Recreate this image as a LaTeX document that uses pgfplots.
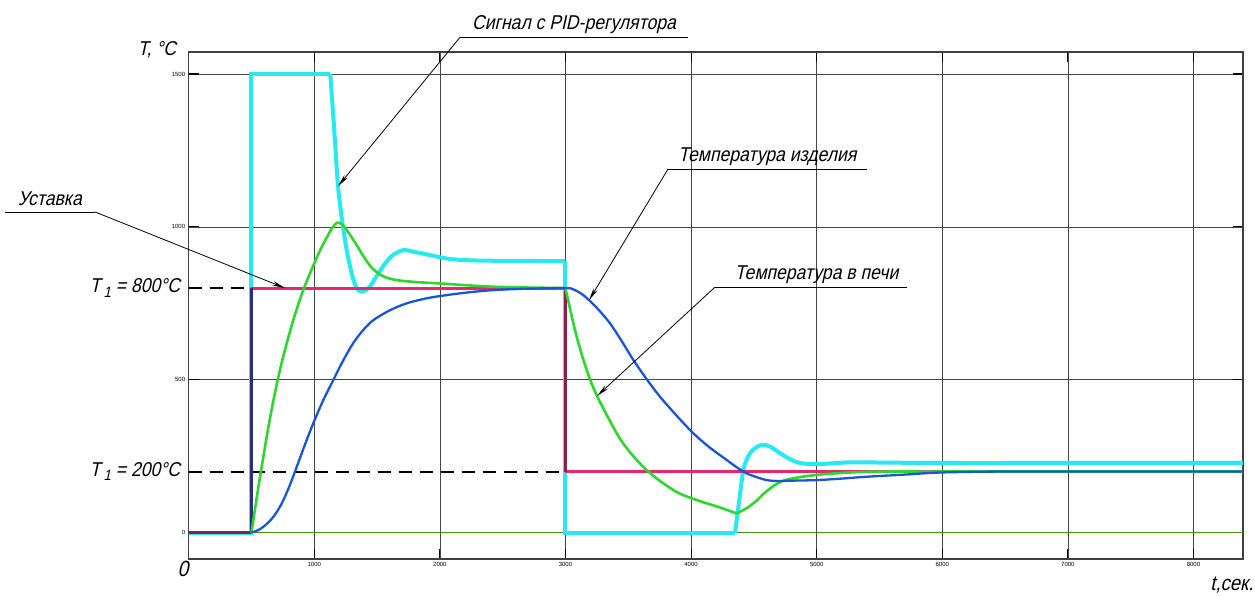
\documentclass[border=0pt]{standalone}
\usepackage{pgfplots}
\pgfplotsset{compat=1.18}
\usepackage{fontspec}
\usetikzlibrary{arrows.meta}
\setmainfont{Liberation Sans}[FakeSlant=0.22, FakeStretch=0.88]
\newfontfamily\tickfont{Liberation Sans}

\definecolor{sigcol}{RGB}{40,232,240}
\definecolor{furnace}{RGB}{45,215,45}
\definecolor{product}{RGB}{25,85,215}
\definecolor{setcol}{RGB}{230,40,110}
\definecolor{setdark}{RGB}{140,30,80}
\definecolor{setnavy}{RGB}{45,45,130}
\definecolor{zeroline}{RGB}{80,140,20}

\newcommand{\Tone}{T\kern3pt\raisebox{-0.45ex}{\fontsize{15}{15}\selectfont 1}}

\begin{document}
\begin{tikzpicture}
\begin{axis}[
  scale only axis,
  width=1054.3pt, height=507pt,
  xmin=0, xmax=8394, ymin=-86, ymax=1572,
  xtick={1000,2000,...,8000},
  ytick={0,500,1000,1500},
  tick align=inside,
  major tick length=10pt,
  tick style={black, line width=1.1pt},
  grid=major,
  grid style={gray!55!black, line width=0.7pt},
  axis line style={black!75, line width=1.5pt},
  tick label style={font=\tickfont\fontsize{6}{7}\selectfont},
  /pgf/number format/1000 sep={},
  /pgf/number format/assume math mode=true,
  clip=false,
]
\coordinate (o) at (rel axis cs:0,0);

% zero reference line
\addplot[zeroline, line width=0.9pt] coordinates {(0,0) (8394,0)};

% dashed levels of the two set points
\addplot[black, line width=2pt, dash pattern=on 13pt off 8pt] coordinates {(0,800) (500,800)};
\addplot[black, line width=2pt, dash pattern=on 13pt off 8pt] coordinates {(0,200) (3000,200)};

% PID controller output
\addplot[sigcol, line width=4pt] coordinates {(0,0) (500,0) (500,1500) (1127,1500)};
\addplot[sigcol, line width=4pt, smooth] coordinates {
  (1127,1500) (1160,1310) (1189,1133) (1225,1010) (1258,924) (1295,852)
  (1324,812) (1350,794) (1377,788) (1410,793) (1443,805) (1490,835)
  (1549,872) (1620,906) (1709,924) (1800,918) (1921,908) (2080,895)
  (2300,890) (2600,889) (3000,888)};
\addplot[sigcol, line width=4pt] coordinates {(3000,888) (3000,0) (4350,0)};
\addplot[sigcol, line width=4pt, smooth] coordinates {
  (4350,0) (4385,110) (4416,205) (4455,250) (4495,272) (4540,284)
  (4588,287) (4640,279) (4708,260) (4790,240) (4867,228) (5000,224)
  (5265,230) (5600,229) (6000,228) (7000,228) (8394,228)};

% set point
\addplot[setdark, line width=2.6pt] coordinates {(0,0) (500,0)};
\addplot[setcol, line width=3pt] coordinates {(500,800) (3000,800)};
\addplot[setcol, line width=3pt] coordinates {(3000,200) (8394,200)};
\addplot[setdark, line width=2.6pt] coordinates {(3000,800) (3000,200)};
\addplot[setnavy, line width=2.4pt] coordinates {(500,0) (500,800)};

% furnace temperature
\addplot[furnace, line width=2.6pt, smooth] coordinates {
  (500,0) (540,110) (581,215) (630,335) (680,444) (730,538) (790,634)
  (850,718) (918,800) (1000,881) (1060,935) (1099,965) (1140,995)
  (1183,1014) (1220,1008) (1258,990) (1320,952) (1390,905) (1450,870)
  (1510,848) (1570,835) (1656,826) (1800,820) (2001,815) (2452,804)
  (3000,800)};
\addplot[furnace, line width=2.6pt, smooth] coordinates {
  (3000,800) (3010,780) (3089,641) (3169,532) (3248,450) (3408,325)
  (3500,270) (3620,215) (3750,170) (3900,130) (4071,103) (4204,86)
  (4363,63)};
\addplot[furnace, line width=2.6pt, smooth] coordinates {
  (4363,63) (4450,82) (4522,105) (4600,135) (4734,170) (5000,189)
  (5398,199) (6000,200) (8394,200)};

% product temperature
\addplot[product, line width=2.3pt, smooth] coordinates {
  (500,0) (560,10) (620,28) (680,55) (740,95) (800,150) (860,215)
  (920,282) (992,358) (1070,432) (1151,499) (1230,563) (1310,620)
  (1390,663) (1470,695) (1600,727) (1735,750) (1900,767) (2054,777)
  (2250,787) (2452,794) (2700,798) (3000,800) (3060,796) (3142,777)
  (3250,735) (3354,685) (3450,625) (3540,565) (3650,500) (3752,445)
  (3880,385) (4018,325) (4150,278) (4283,238) (4360,215) (4443,194)
  (4520,182) (4602,172) (4690,169) (4787,170) (5000,172) (5200,177)
  (5398,183) (5700,190) (5995,197) (6460,200) (7000,200) (8394,200)};

% axis captions
\node[font=\fontsize{20}{24}\selectfont] at (axis cs:-252,1578) {T, °C};
\node[font=\fontsize{22}{26}\selectfont] at (axis cs:-45,-119) {0};
\node[font=\fontsize{21}{25}\selectfont] at (axis cs:8306,-171) {t,сек.};
\node[anchor=east, font=\fontsize{20}{24}\selectfont] at (axis cs:-40,800) {\Tone\ = 800°C};
\node[anchor=east, font=\fontsize{20}{24}\selectfont] at (axis cs:-40,200) {\Tone\ = 200°C};

% leader lines with captions
\draw[black, line width=0.8pt] (axis cs:-1462,1049) -- (axis cs:-746,1049);
\draw[black, line width=0.8pt, -{Stealth[length=13pt,width=4.5pt]}] (axis cs:-746,1049) -- (axis cs:767,800);
\node[anchor=base, font=\fontsize{20}{24}\selectfont] at (axis cs:-1104,1071) {Уставка};

\draw[black, line width=0.8pt] (axis cs:2160,1620) -- (axis cs:3976,1620);
\draw[black, line width=0.8pt, -{Stealth[length=13pt,width=4.5pt]}] (axis cs:2160,1620) -- (axis cs:1189,1133);
\node[anchor=base, font=\fontsize{20}{24}\selectfont] at (axis cs:3068,1647) {Сигнал с PID-регулятора};

\draw[black, line width=0.8pt] (axis cs:3816,1189) -- (axis cs:5400,1189);
\draw[black, line width=0.8pt, -{Stealth[length=13pt,width=4.5pt]}] (axis cs:3816,1189) -- (axis cs:3187,760);
\node[anchor=base, font=\fontsize{20}{24}\selectfont] at (axis cs:4608,1213) {Температура изделия};

\draw[black, line width=0.8pt] (axis cs:4190,803) -- (axis cs:5719,803);
\draw[black, line width=0.8pt, -{Stealth[length=13pt,width=4.5pt]}] (axis cs:4190,803) -- (axis cs:3251,447);
\node[anchor=base, font=\fontsize{20}{24}\selectfont] at (axis cs:5000,829) {Температура в печи};
\end{axis}
\pgfresetboundingbox
\path[use as bounding box] ([shift={(-188.7pt,-36pt)}]o) rectangle ([shift={(1066.3pt,559pt)}]o);
\end{tikzpicture}
\end{document}
